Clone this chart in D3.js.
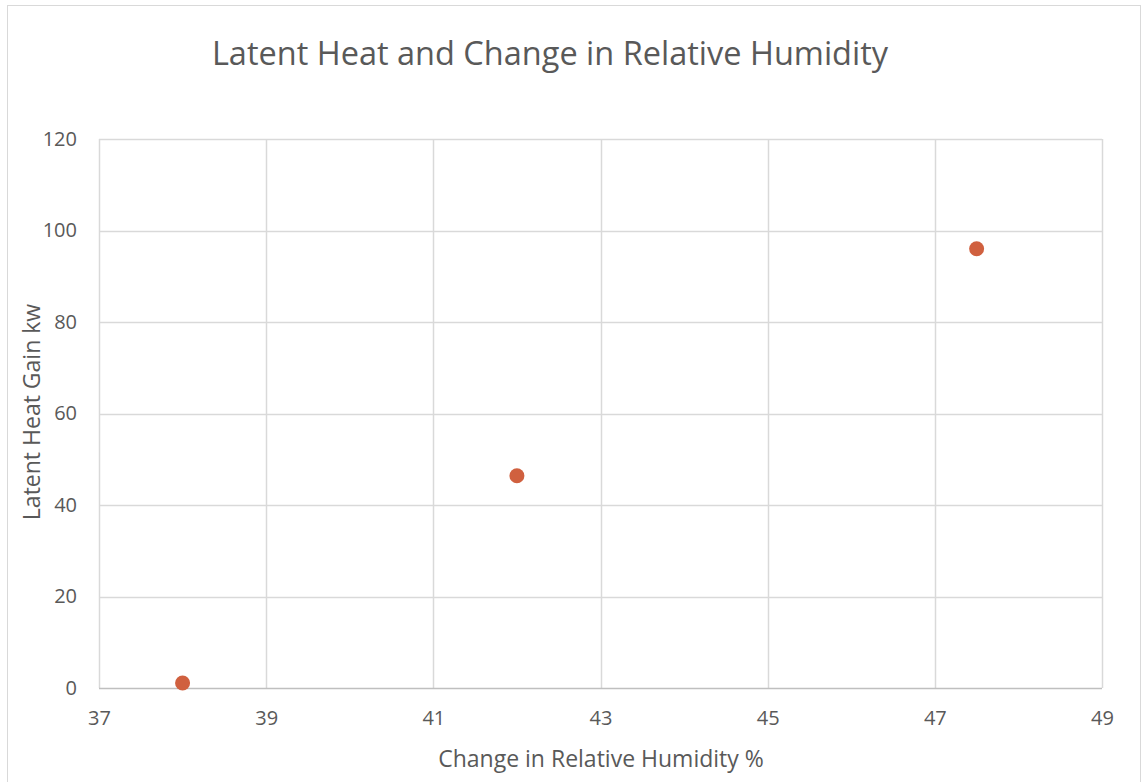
<!DOCTYPE html>
<html><head><meta charset="utf-8">
<script src="https://cdn.jsdelivr.net/npm/d3@7"></script>
<style>body{margin:0;background:#fff}svg{display:block}text{font-family:"Open Sans",sans-serif;fill:#595959}</style>
</head><body>
<script>
const xValues = [38, 42, 47.5];
const yValues = [1.1, 46.4, 96];
const xTicks = [37, 39, 41, 43, 45, 47, 49];
const yTicks = [0, 20, 40, 60, 80, 100, 120];
const title = "Latent Heat and Change in Relative Humidity";
const xTitle = "Change in Relative Humidity %";
const yTitle = "Latent Heat Gain kw";

const W = 1143, H = 782;
const m = {l: 99, r: 1102, t: 139, b: 688};
const svg = d3.select("body").append("svg").attr("width", W).attr("height", H);
svg.append("rect").attr("x", 7.5).attr("y", 5.5).attr("width", 1133).attr("height", 790)
  .attr("fill", "#fff").attr("stroke", "#d9d9d9");

const x = d3.scaleLinear().domain([37, 49]).range([m.l, m.r]);
const y = d3.scaleLinear().domain([0, 120]).range([m.b, m.t]);

const g = svg.append("g");
g.selectAll(".vg").data(xTicks).join("line")
  .attr("x1", d => Math.round(x(d)) + 0.5).attr("x2", d => Math.round(x(d)) + 0.5)
  .attr("y1", m.t).attr("y2", m.b).attr("stroke", "#d9d9d9").attr("stroke-width", 1.5);
g.selectAll(".hg").data(yTicks).join("line")
  .attr("y1", d => Math.round(y(d)) + 0.5).attr("y2", d => Math.round(y(d)) + 0.5)
  .attr("x1", m.l).attr("x2", m.r).attr("stroke", d => d === 0 ? "#bfbfbf" : "#d9d9d9").attr("stroke-width", 1.5);

const yAxis = d3.axisLeft(y).tickValues(yTicks).tickSize(0).tickPadding(22);
svg.append("g").attr("transform", `translate(${m.l},0)`).call(yAxis)
  .call(s => s.select(".domain").remove())
  .selectAll("text").style("font-size", "20px").attr("fill", "#595959");
const xAxis = d3.axisBottom(x).tickValues(xTicks).tickSize(0).tickPadding(23);
svg.append("g").attr("transform", `translate(0,${m.b})`).call(xAxis)
  .call(s => s.select(".domain").remove())
  .selectAll("text").style("font-size", "20px").attr("fill", "#595959");

svg.selectAll(".pt").data(xValues.map((v, i) => [v, yValues[i]])).join("circle")
  .attr("cx", d => x(d[0])).attr("cy", d => y(d[1])).attr("r", 7.5).attr("fill", "#d0603f");

svg.append("text").attr("x", 550).attr("y", 65).attr("text-anchor", "middle")
  .style("font-size", "32.5px").text(title);
svg.append("text").attr("x", 601).attr("y", 767).attr("text-anchor", "middle")
  .style("font-size", "23px").text(xTitle);
svg.append("text").attr("transform", "translate(40,412) rotate(-90)").attr("text-anchor", "middle")
  .style("font-size", "23px").text(yTitle);
</script>
</body></html>
